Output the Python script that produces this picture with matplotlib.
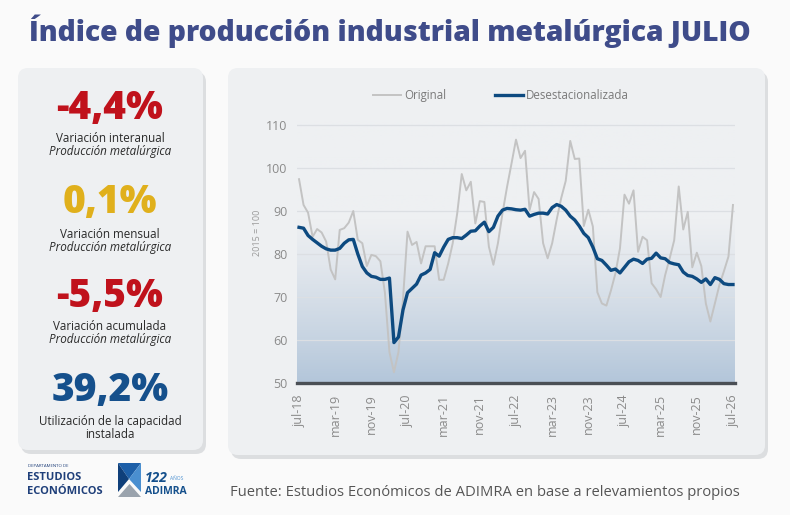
import numpy as np
import matplotlib.pyplot as plt
from matplotlib.patches import FancyBboxPatch, Polygon
from matplotlib.colors import LinearSegmentedColormap

plt.rcParams['font.family'] = ['Open Sans', 'DejaVu Sans']

# ---- data (jul-18 .. jul-26, monthly) ----
original = [97.4, 91.4, 89.6, 84.0, 85.8, 85.0, 82.9, 76.4, 74.1, 85.6,
            86.0, 87.3, 90.0, 83.3, 82.5, 77.2, 79.8, 79.5, 78.3, 71.0,
            57.2, 52.5, 57.2, 69.5, 85.2, 82.1, 82.8, 77.8, 81.8, 81.8,
            81.8, 74.0, 74.0, 77.8, 82.5, 89.5, 98.6, 94.8, 96.8, 87.1,
            92.3, 92.1, 81.7, 77.5, 82.5, 89.4, 95.5, 101.0, 106.6, 102.3,
            104.0, 90.2, 94.4, 92.8, 82.5, 79.0, 82.5, 88.0, 93.0, 97.0,
            106.3, 102.1, 102.2, 86.5, 90.3, 86.4, 71.1, 68.5, 68.0, 71.5,
            75.5, 81.3, 93.8, 91.7, 94.8, 80.5, 84.0, 83.2, 73.2, 71.8,
            70.0, 75.1, 79.0, 83.2, 95.7, 85.7, 89.8, 76.9, 80.3, 77.2,
            68.5, 64.3, 68.5, 72.8, 76.0, 79.4, 91.4]
desest = [86.2, 86.0, 84.3, 83.4, 82.6, 81.8, 81.2, 80.9, 80.9, 81.3,
          82.5, 83.3, 83.4, 80.0, 77.1, 75.6, 74.8, 74.6, 74.1, 74.1,
          74.4, 59.4, 60.7, 67.0, 71.0, 72.0, 73.0, 75.1, 75.6, 76.4,
          80.3, 79.5, 81.6, 83.4, 83.8, 83.8, 83.6, 84.4, 85.3, 85.4,
          86.5, 87.4, 85.2, 86.2, 88.8, 90.2, 90.6, 90.5, 90.3, 90.2,
          90.4, 88.8, 89.2, 89.5, 89.5, 89.3, 90.8, 91.5, 91.1, 90.2,
          88.8, 87.9, 86.5, 84.8, 83.8, 81.6, 78.9, 78.5, 77.4, 76.2,
          76.5, 75.6, 76.9, 78.2, 78.8, 78.5, 77.8, 78.8, 79.0, 80.2,
          79.1, 78.9, 78.0, 77.7, 77.5, 75.8, 75.0, 74.8, 74.2, 73.4,
          74.2, 72.9, 74.5, 74.1, 73.1, 72.9, 72.9]
tick_labels = ['jul-18', 'mar-19', 'nov-19', 'jul-20', 'mar-21', 'nov-21', 'jul-22',
               'mar-23', 'nov-23', 'jul-24', 'mar-25', 'nov-25', 'jul-26']
y_ticks = [50, 60, 70, 80, 90, 100, 110]

kpi_values = ['-4,4%', '0,1%', '-5,5%', '39,2%']
kpi_colors = ['#c0121c', '#e0b01c', '#c0121c', '#15508c']
kpi_line1 = ['Variación interanual', 'Variación mensual', 'Variación acumulada',
             'Utilización de la capacidad']
kpi_line2 = ['Producción metalúrgica', 'Producción metalúrgica', 'Producción metalúrgica',
             'instalada']

W, H = 790, 515
fig = plt.figure(figsize=(W / 100, H / 100), dpi=100)
fig.patch.set_facecolor('#fafafa')

# overlay in pixel coords for cards and text
bg = fig.add_axes([0, 0, 1, 1])
bg.set_xlim(0, W)
bg.set_ylim(H, 0)
bg.axis('off')

card = '#eef0f2'
for (x0, y0, x1, y1) in [(18, 68, 203, 450), (228, 68, 765, 455)]:
    sh = FancyBboxPatch((x0 + 3, y0 + 4), x1 - x0, y1 - y0,
                        boxstyle='round,pad=0,rounding_size=10',
                        fc='#c9ccd0', ec='none', alpha=0.6, zorder=1)
    bg.add_patch(sh)
    bx = FancyBboxPatch((x0, y0), x1 - x0, y1 - y0,
                        boxstyle='round,pad=0,rounding_size=10',
                        fc=card, ec='none', zorder=2)
    bg.add_patch(bx)

# title, fitted to width
title = bg.text(390, 31, 'Índice de producción industrial metalúrgica JULIO',
                ha='center', va='center', fontsize=24, fontweight='heavy',
                color='#3f4c8a', zorder=5)
fig.canvas.draw()
r = fig.canvas.get_renderer()
tw = title.get_window_extent(r).width
title.set_fontsize(24 * 724 / tw)

# KPI panel
kpi_y = [108, 203, 296, 390]
for i in range(4):
    y = kpi_y[i]
    bg.text(110, y, kpi_values[i], ha='center', va='center', fontsize=28,
            fontweight='heavy', color=kpi_colors[i], zorder=5)
    bg.text(110, y + 31, kpi_line1[i], ha='center', va='center', fontsize=8.4,
            color='#2a2a2a', zorder=5)
    st = 'italic' if i < 3 else 'normal'
    bg.text(110, y + 44, kpi_line2[i], ha='center', va='center', fontsize=8.4,
            style=st, color='#2a2a2a', zorder=5)

# footer
bg.text(28, 466, 'DEPARTAMENTO DE', fontsize=3.2, color='#1f3f7a', va='center', zorder=5)
bg.text(27, 478, 'ESTUDIOS', fontsize=8, fontweight='bold', color='#1f3f7a',
        va='center', zorder=5)
bg.text(27, 491, 'ECONÓMICOS', fontsize=8, fontweight='bold', color='#1f3f7a',
        va='center', zorder=5)
bg.add_patch(Polygon([(118, 463), (141, 463), (129, 479)], fc='#1d5fa8', ec='none', zorder=5))
bg.add_patch(Polygon([(118, 463), (118, 492), (129, 479)], fc='#0f3f7a', ec='none', zorder=5))
bg.add_patch(Polygon([(141, 463), (141, 492), (129, 479)], fc='#4a8fd0', ec='none', zorder=5))
bg.add_patch(Polygon([(118, 497), (141, 497), (129.5, 484)], fc='#9aa3ad', ec='none', zorder=6))
bg.text(145, 478, '122', fontsize=10, fontweight='bold', style='italic', color='#15508c',
        va='center', zorder=5)
bg.text(170, 479, 'AÑOS', fontsize=3.5, color='#4a8fd0', va='center', zorder=5)
bg.text(145, 491, 'ADIMRA', fontsize=7.5, fontweight='bold', color='#15508c',
        va='center', zorder=5)
src = bg.text(230, 492, 'Fuente: Estudios Económicos de ADIMRA en base a relevamientos propios',
              ha='left', va='center', fontsize=10.5, color='#555555', zorder=5)
fig.canvas.draw()
sw = src.get_window_extent(fig.canvas.get_renderer()).width
src.set_fontsize(10.5 * 510 / sw)

# chart axes
xl, xr = 297, 735
ytop, ybot = 120.7, 383
ax = fig.add_axes([xl / W, 1 - ybot / H, (xr - xl) / W, (ybot - ytop) / H])
ax.set_facecolor('none')
x = np.arange(len(original))
ax.set_xlim(-0.45, 96.45)
ax.set_ylim(50, 111)

# gradient background under the lines
grad = np.linspace(0, 1, 256).reshape(-1, 1)
cmap = LinearSegmentedColormap.from_list(
    'g', [(0.0, '#b3c6da'), (0.2, '#cad6e3'), (0.45, '#e2e7ed'), (0.62, card), (1.0, card)])
ax.imshow(grad, cmap=cmap, aspect='auto', extent=[-0.45, 96.45, 50, 111],
          origin='lower', zorder=0)

ax.set_yticks(y_ticks)
ax.set_xticks(np.arange(0, len(original), 8))
ax.set_xticklabels(tick_labels, rotation=90)
ax.grid(axis='y', color='#dcdfe3', lw=0.9, zorder=1)
ax.tick_params(length=0, labelsize=9, labelcolor='#8a8a8a')
ax.tick_params(axis='y', pad=7)
ax.tick_params(axis='x', pad=8)
for s in ['top', 'left', 'right']:
    ax.spines[s].set_visible(False)
ax.spines['bottom'].set_color('#4a4f55')
ax.spines['bottom'].set_linewidth(2.4)
ax.spines['bottom'].set_zorder(4)

ax.plot(x, original, color='#c3c3c3', lw=1.4, label='Original', zorder=2)
ax.plot(x, desest, color='#0d4a80', lw=2.4, label='Desestacionalizada', zorder=3)

leg = ax.legend(loc='center', bbox_to_anchor=(0.466, 1.095), ncol=2, frameon=False,
                fontsize=8.3, handlelength=2.4, handletextpad=0.3, columnspacing=4.2)
for t in leg.get_texts():
    t.set_color('#7a7a7a')

fig.text(258 / W, 1 - 233 / H, '2015 = 100', rotation=90, ha='center', va='center',
         fontsize=6.5, color='#9a9a9a')

fig.savefig('out.png', dpi=100, facecolor=fig.get_facecolor())
